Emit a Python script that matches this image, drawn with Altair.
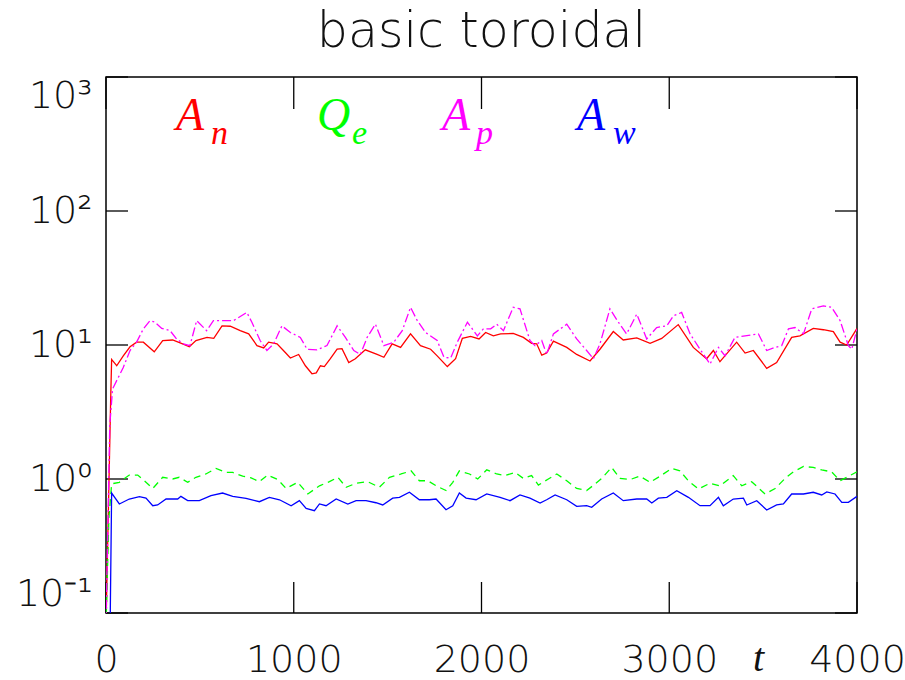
import altair as alt
import pandas as pd

# ---- data ----
an_t = [0, 25, 30, 57, 92, 128, 163, 199, 257, 302, 355, 408, 444, 479, 538, 574, 618, 662, 715, 760,
        804, 840, 866, 911, 955, 982, 1026, 1062, 1097, 1120, 1142, 1163, 1195, 1231, 1257, 1293, 1328,
        1381, 1444, 1480, 1524, 1569, 1622, 1675, 1729, 1764, 1818, 1862, 1898, 1942, 1987, 2022, 2063,
        2102, 2169, 2223, 2267, 2294, 2321, 2347, 2383, 2454, 2507, 2578, 2631, 2702, 2755, 2827, 2898,
        2960, 3048, 3128, 3199, 3235, 3270, 3359, 3404, 3448, 3519, 3572, 3652, 3696, 3767, 3821, 3874,
        3910, 3945, 4000]
an_v = [0.08, 4.0, 7.8, 7.0, 8.3, 9.7, 10.5, 10.5, 8.9, 10.8, 10.9, 10.2, 9.7, 10.8, 11.4, 11.2, 13.9,
        13.8, 12.8, 12.1, 9.9, 9.5, 10.5, 10.2, 8.8, 8.0, 8.5, 7.0, 6.1, 6.2, 7.0, 6.9, 7.9, 9.3, 9.4,
        7.4, 7.9, 9.2, 8.5, 8.1, 10.2, 9.6, 12.1, 9.9, 9.3, 8.3, 6.9, 7.9, 11.2, 11.6, 11.1, 12.4, 11.7,
        12.1, 12.2, 11.4, 10.3, 10.2, 8.4, 8.7, 10.7, 9.6, 8.5, 7.6, 9.3, 12.6, 10.9, 11.3, 10.3, 11.2,
        14.2, 9.6, 7.9, 9.1, 7.5, 10.5, 8.7, 9.1, 6.7, 7.4, 11.4, 11.7, 13.3, 13.0, 12.6, 10.5, 10.0, 13.3]

qe_t = [0, 15, 30, 71, 124, 169, 204, 249, 302, 355, 390, 435, 479, 532, 586, 639, 675, 728, 773, 817,
        861, 915, 959, 1021, 1075, 1137, 1190, 1235, 1279, 1332, 1394, 1456, 1510, 1572, 1625, 1669,
        1714, 1758, 1811, 1847, 1882, 1936, 1980, 2028, 2081, 2125, 2179, 2223, 2267, 2303, 2356, 2401,
        2454, 2507, 2560, 2605, 2640, 2693, 2738, 2791, 2844, 2898, 2951, 3013, 3057, 3102, 3155, 3217,
        3270, 3341, 3386, 3439, 3510, 3564, 3617, 3661, 3715, 3767, 3812, 3865, 3910, 3945, 4000]
qe_v = [0.08, 0.5, 0.92, 0.945, 1.07, 1.07, 0.97, 0.85, 1.03, 1.0, 1.03, 0.945, 1.03, 1.09, 1.2, 1.12,
        1.12, 1.05, 1.02, 0.955, 1.07, 0.99, 0.85, 0.945, 0.773, 0.89, 0.955, 1.03, 0.867, 0.93, 0.955,
        0.867, 1.03, 1.09, 1.15, 0.97, 0.97, 0.89, 0.82, 0.945, 1.15, 1.09, 1.0, 1.17, 1.09, 1.06, 1.12,
        1.01, 1.06, 0.9, 1.0, 1.09, 0.97, 0.85, 0.82, 0.918, 1.01, 1.22, 1.01, 0.99, 1.05, 0.945, 1.05,
        1.2, 1.15, 0.97, 0.842, 0.93, 0.89, 1.06, 0.89, 0.955, 0.773, 0.85, 1.01, 1.13, 1.24, 1.22, 1.17,
        1.13, 0.97, 1.03, 1.13]

ap_t = [0, 20, 35, 62, 92, 128, 163, 199, 234, 261, 297, 341, 376, 412, 447, 483, 536, 572, 625, 679,
        750, 777, 821, 857, 893, 937, 982, 1035, 1071, 1124, 1177, 1231, 1275, 1320, 1355, 1391, 1435,
        1480, 1533, 1578, 1622, 1658, 1702, 1764, 1800, 1836, 1871, 1925, 1978, 2010, 2049, 2081, 2117,
        2169, 2205, 2258, 2285, 2321, 2347, 2383, 2454, 2507, 2560, 2596, 2631, 2684, 2729, 2773, 2827,
        2880, 2933, 2987, 3022, 3066, 3111, 3164, 3217, 3262, 3297, 3350, 3404, 3475, 3519, 3564, 3599,
        3635, 3670, 3715, 3759, 3821, 3865, 3910, 3954, 3972, 4000]
ap_v = [0.08, 2.5, 4.7, 5.6, 6.8, 9.1, 10.5, 13.2, 15.2, 14.8, 13.3, 12.8, 11.1, 10.2, 9.9, 15.2, 12.8,
        15.2, 15.2, 15.2, 17.5, 14.8, 10.8, 9.1, 10.2, 13.9, 12.4, 11.4, 9.3, 9.2, 9.9, 13.9, 11.4, 9.1,
        8.5, 11.4, 14.3, 9.9, 10.5, 12.8, 19.1, 15.2, 12.4, 10.8, 8.1, 8.0, 10.5, 14.8, 11.7, 13.2, 13.2,
        14.3, 12.8, 19.1, 18.6, 10.8, 9.9, 10.8, 8.5, 12.1, 14.3, 11.1, 9.1, 7.9, 10.2, 18.6, 14.8, 12.1,
        17.0, 11.1, 13.5, 13.9, 16.5, 17.5, 12.1, 9.3, 7.2, 9.6, 8.3, 11.4, 11.7, 12.1, 9.1, 9.6, 9.9,
        13.2, 13.5, 12.1, 18.6, 19.6, 19.1, 15.2, 9.9, 9.3, 13.2]

aw_t = [0, 21, 30, 71, 124, 178, 213, 249, 275, 320, 382, 399, 435, 497, 559, 621, 675, 746, 817, 870,
        924, 986, 1030, 1066, 1110, 1137, 1172, 1226, 1288, 1332, 1385, 1438, 1474, 1527, 1563, 1616,
        1669, 1722, 1758, 1811, 1847, 1882, 1918, 1971, 2028, 2099, 2152, 2205, 2258, 2312, 2347, 2392,
        2454, 2507, 2560, 2587, 2640, 2702, 2755, 2827, 2880, 2907, 2942, 2987, 3040, 3102, 3164, 3217,
        3262, 3288, 3341, 3395, 3413, 3466, 3519, 3572, 3608, 3652, 3715, 3767, 3812, 3839, 3883, 3919,
        3954, 4000]
aw_v = [0.05, 0.06, 0.786, 0.651, 0.709, 0.738, 0.72, 0.632, 0.64, 0.709, 0.709, 0.742, 0.69, 0.689,
        0.751, 0.786, 0.742, 0.718, 0.677, 0.73, 0.70, 0.632, 0.69, 0.604, 0.58, 0.651, 0.632, 0.709,
        0.651, 0.689, 0.689, 0.665, 0.64, 0.72, 0.73, 0.796, 0.70, 0.70, 0.709, 0.59, 0.632, 0.786, 0.72,
        0.70, 0.773, 0.73, 0.689, 0.76, 0.72, 0.662, 0.70, 0.76, 0.70, 0.625, 0.632, 0.615, 0.709, 0.786,
        0.689, 0.709, 0.709, 0.662, 0.72, 0.73, 0.818, 0.73, 0.632, 0.632, 0.73, 0.632, 0.709, 0.72, 0.64,
        0.689, 0.587, 0.64, 0.651, 0.773, 0.773, 0.796, 0.76, 0.80, 0.773, 0.67, 0.67, 0.742]

x_ticks = [0, 1000, 2000, 3000, 4000]
y_ticks = [0.1, 1, 10, 100, 1000]

# ---- layout ----
W, H = 751, 536
xs = alt.Scale(domain=[0, 4000], nice=False, zero=False)
ys = alt.Scale(type="log", domain=[0.1, 1000], nice=False)

yaxis = alt.Axis(values=y_ticks, ticks=False, domain=False, grid=False, title=None,
                 labelFont="DejaVu Sans", labelFontSize=38, labelFontWeight=200, labelColor="#111",
                 labelPadding=14, labelFlush=True,
                 labelExpr="'10' + ['⁻¹','⁰','¹','²','³'][round(log(datum.value)/LN10) + 1]")
xaxis = alt.Axis(values=x_ticks, ticks=False, domain=False, grid=False, title=None,
                 labelFont="DejaVu Sans", labelFontSize=38, labelFontWeight=200, labelColor="#111",
                 labelPadding=28, labelFlush=False, format="d")

X = lambda f: alt.X(f, scale=xs, axis=xaxis)
Y = lambda f: alt.Y(f, scale=ys, axis=yaxis)


def line(t, v, color, dash=None):
    df = pd.DataFrame({"t": t, "v": v})
    kw = dict(color=color, strokeWidth=1.3, clip=True)
    if dash:
        kw["strokeDash"] = dash
    return alt.Chart(df).mark_line(**kw).encode(x=X("t:Q"), y=Y("v:Q"))


xdf = pd.DataFrame({"t": x_ticks})
ydf = pd.DataFrame({"v": y_ticks})

tick_style = dict(color="black", strokeWidth=1.3)
left_ticks = alt.Chart(ydf).mark_rule(**tick_style).encode(
    y=Y("v:Q"), x=alt.value(0), x2=alt.value(22))
right_ticks = alt.Chart(ydf).mark_rule(**tick_style).encode(
    y=Y("v:Q"), x=alt.value(W - 22), x2=alt.value(W))
bottom_ticks = alt.Chart(xdf).mark_rule(**tick_style).encode(
    x=X("t:Q"), y=alt.value(H), y2=alt.value(H - 31))
top_ticks = alt.Chart(xdf).mark_rule(**tick_style).encode(
    x=X("t:Q"), y=alt.value(0), y2=alt.value(32))

one = pd.DataFrame({"a": [0]})


def label(text, px, py, color, size, font="Liberation Serif", style="italic", align="left",
          weight="normal"):
    return alt.Chart(one).mark_text(
        text=text, font=font, fontSize=size, fontStyle=style, color=color,
        align=align, baseline="alphabetic", fontWeight=weight,
    ).encode(x=alt.value(px), y=alt.value(py))


labels = [
    label("A", 70, 53, "#ff0000", 46), label("n", 105, 67, "#ff0000", 34),
    label("Q", 211, 53, "#00ff00", 46), label("e", 246, 67, "#00ff00", 34),
    label("A", 336, 53, "#ff00ff", 46), label("p", 370, 67, "#ff00ff", 34),
    label("A", 471, 53, "#0000ff", 46), label("w", 507, 67, "#0000ff", 34),
    label("t", 647, 594, "#111", 40),
    label("basic toroidal", W / 2, -30, "#111", 49, font="DejaVu Sans",
          style="normal", align="center", weight=200),
]

chart = alt.layer(
    left_ticks, right_ticks, bottom_ticks, top_ticks,
    line(an_t, an_v, "#ff0000"),
    line(qe_t, qe_v, "#00ff00", [7, 5]),
    line(ap_t, ap_v, "#ff00ff", [9, 3, 2, 3]),
    line(aw_t, aw_v, "#0000ff"),
    *labels,
).properties(
    width=W, height=H,
    autosize=alt.AutoSizeParams(type="none"),
    padding={"left": 106, "top": 77, "right": 48, "bottom": 67},
    background="white",
).configure_view(stroke="black", strokeWidth=1.5)

chart.save("out.html", embed_options={"renderer": "svg", "actions": False})
